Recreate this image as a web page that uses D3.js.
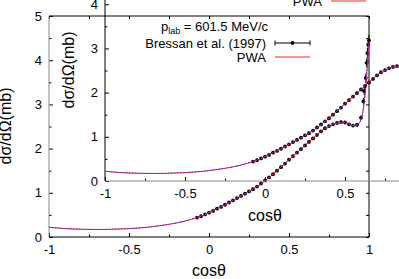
<!DOCTYPE html>
<html>
<head>
<meta charset="utf-8">
<script src="https://cdn.jsdelivr.net/npm/d3@7"></script>
<style>
  body { margin: 0; background: #fff; }
  svg { display: block; font-family: "Liberation Sans", Arial, sans-serif; }
</style>
</head>
<body>
<div id="chart"></div>
<script>
// PWA curve
const pwaCos = [-1, -0.9, -0.8, -0.7, -0.6, -0.5, -0.4, -0.3, -0.2, -0.1, -0.05, 0, 0.1, 0.2, 0.3, 0.4, 0.5, 0.6, 0.7, 0.75, 0.8, 0.85, 0.9, 0.93, 0.95, 0.96, 0.97, 0.98, 0.99, 1];
const pwaVal = [0.22, 0.19, 0.175, 0.17, 0.175, 0.19, 0.215, 0.26, 0.32, 0.41, 0.47, 0.55, 0.73, 0.93, 1.14, 1.42, 1.75, 2.07, 2.39, 2.51, 2.58, 2.59, 2.52, 2.55, 2.66, 2.8, 3.05, 3.4, 3.9, 4.4];

// Bressan et al. (1997)
const expCos = [-0.075, -0.05, -0.025, 0, 0.025, 0.05, 0.075, 0.1, 0.125, 0.15, 0.175, 0.2, 0.225, 0.25, 0.275, 0.3, 0.325, 0.35, 0.375, 0.4, 0.425, 0.45, 0.475, 0.5, 0.525, 0.55, 0.575, 0.6, 0.625, 0.65, 0.675, 0.7, 0.725, 0.75, 0.775, 0.8, 0.825, 0.85, 0.875, 0.9, 0.925, 0.95, 0.965, 0.97, 0.98, 0.985, 0.99, 0.995, 1];
const expVal = [0.44, 0.47, 0.51, 0.55, 0.59, 0.64, 0.68, 0.73, 0.78, 0.83, 0.88, 0.93, 0.98, 1.03, 1.08, 1.14, 1.21, 1.28, 1.35, 1.42, 1.5, 1.58, 1.66, 1.75, 1.83, 1.91, 1.99, 2.07, 2.15, 2.23, 2.31, 2.39, 2.46, 2.51, 2.55, 2.58, 2.6, 2.59, 2.55, 2.52, 2.54, 2.7, 3.07, 3.3, 3.6, 3.94, 4.16, 4.35, 4.45];
const expErr = [0.02, 0.02, 0.02, 0.02, 0.02, 0.02, 0.02, 0.02, 0.02, 0.02, 0.02, 0.02, 0.02, 0.03, 0.03, 0.03, 0.03, 0.03, 0.03, 0.03, 0.03, 0.03, 0.03, 0.03, 0.03, 0.03, 0.03, 0.03, 0.03, 0.03, 0.03, 0.03, 0.03, 0.03, 0.03, 0.03, 0.03, 0.03, 0.03, 0.03, 0.04, 0.05, 0.08, 0.1, 0.1, 0.1, 0.12, 0.12, 0.12];

const xMajor = [-1, -0.5, 0, 0.5, 1];
const xMinor = [-0.75, -0.25, 0.25, 0.75];
const xTickLabels = ["-1", "-0.5", "0", "0.5", "1"];
const yMajor = [0, 1, 2, 3, 4, 5];
const yMinor = [0.5, 1.5, 2.5, 3.5, 4.5];
const yTickLabels = ["0", "1", "2", "3", "4", "5"];

const width = 399,
  height = 279,
  frame = { left: 49, right: 369, top: 16, bottom: 237 };

const x = d3.scaleLinear().domain([-1, 1]).range([frame.left, frame.right]);
const y = d3.scaleLinear().domain([0, 5]).range([frame.bottom, frame.top]);

const pwa = pwaCos.map((c, i) => ({ c: c, v: pwaVal[i] }));
const points = expCos.map((c, i) => ({ c: c, v: expVal[i], e: expErr[i] }));

const svg = d3.select("#chart").append("svg").attr("width", width).attr("height", height);

const line = d3
  .line()
  .x((d) => x(d.c))
  .y((d) => y(d.v))
  .curve(d3.curveMonotoneX);

function styleAxis(g) {
  g.select(".domain").remove();
  g.selectAll("line").attr("stroke", "#000");
  g.selectAll("text").attr("font-size", 13).attr("fill", "#000").attr("font-family", null);
  g.attr("font-family", null);
}

function drawPanel(dx, dy, leftColor, bottomColor, yLabel, xLabel) {
  const g = svg.append("g").attr("transform", `translate(${dx},${dy})`);

  // ticks, inward, mirrored on top / right
  g.append("g")
    .attr("transform", `translate(0,${frame.bottom})`)
    .call(d3.axisBottom(x).tickValues(xMajor).tickSize(-4).tickPadding(8).tickFormat((d, i) => xTickLabels[i]))
    .call(styleAxis);
  g.append("g")
    .attr("transform", `translate(0,${frame.bottom})`)
    .call(d3.axisBottom(x).tickValues(xMinor).tickSize(-2.5).tickFormat(""))
    .call(styleAxis);
  g.append("g")
    .attr("transform", `translate(0,${frame.top})`)
    .call(d3.axisTop(x).tickValues(xMajor.concat(xMinor)).tickSize(-3).tickFormat(""))
    .call(styleAxis);

  g.append("g")
    .attr("transform", `translate(${frame.left},0)`)
    .call(d3.axisLeft(y).tickValues(yMajor).tickSize(-4).tickPadding(7).tickFormat((d, i) => yTickLabels[i]))
    .call(styleAxis);
  g.append("g")
    .attr("transform", `translate(${frame.left},0)`)
    .call(d3.axisLeft(y).tickValues(yMinor).tickSize(-2.5).tickFormat(""))
    .call(styleAxis);
  g.append("g")
    .attr("transform", `translate(${frame.right},0)`)
    .call(d3.axisRight(y).tickValues(yMajor.concat(yMinor)).tickSize(-3).tickFormat(""))
    .call(styleAxis);

  // frame
  g.append("line").attr("x1", frame.left).attr("x2", frame.left).attr("y1", frame.top).attr("y2", frame.bottom).attr("stroke", leftColor);
  g.append("line").attr("x1", frame.left).attr("x2", frame.right).attr("y1", frame.bottom).attr("y2", frame.bottom).attr("stroke", bottomColor);
  g.append("line").attr("x1", frame.left).attr("x2", frame.right).attr("y1", frame.top).attr("y2", frame.top).attr("stroke", "#000");
  g.append("line").attr("x1", frame.right).attr("x2", frame.right).attr("y1", frame.top).attr("y2", frame.bottom).attr("stroke", "#000");

  // axis titles
  g.append("text")
    .attr("transform", `translate(${yLabel[0]},${yLabel[1]}) rotate(-90)`)
    .attr("text-anchor", "middle")
    .attr("font-size", 16)
    .text("dσ/dΩ(mb)");
  g.append("text")
    .attr("x", xLabel[0])
    .attr("y", xLabel[1])
    .attr("text-anchor", "middle")
    .attr("font-size", 16)
    .text("cosθ");

  // data points with error bars
  const pts = g.append("g");
  pts.selectAll("line")
    .data(points)
    .enter()
    .append("line")
    .attr("x1", (d) => x(d.c))
    .attr("x2", (d) => x(d.c))
    .attr("y1", (d) => y(d.v - d.e))
    .attr("y2", (d) => y(d.v + d.e))
    .attr("stroke", "#000");
  pts.selectAll("circle")
    .data(points)
    .enter()
    .append("circle")
    .attr("cx", (d) => x(d.c))
    .attr("cy", (d) => y(d.v))
    .attr("r", 1.9)
    .attr("fill", "#000");

  // PWA curve (red with blue overlay)
  g.append("path").datum(pwa).attr("d", line).attr("fill", "none").attr("stroke", "#ff2020").attr("stroke-width", 1);
  g.append("path").datum(pwa).attr("d", line).attr("fill", "none").attr("stroke", "#3030ff").attr("stroke-width", 1).attr("stroke-dasharray", "1.5,1.5");

  // legend
  const lg = g.append("g");
  const plab = lg.append("text").attr("x", 268).attr("y", 31).attr("text-anchor", "end").attr("font-size", 13);
  plab.append("tspan").text("p");
  plab.append("tspan").attr("font-size", 9).attr("dy", 3).text("lab");
  plab.append("tspan").attr("dy", -3).text(" = 601.5 MeV/c");

  lg.append("text").attr("x", 266).attr("y", 47.5).attr("text-anchor", "end").attr("font-size", 13).text("Bressan et al. (1997)");
  lg.append("line").attr("x1", 275).attr("x2", 310).attr("y1", 43).attr("y2", 43).attr("stroke", "#000");
  lg.append("line").attr("x1", 275).attr("x2", 275).attr("y1", 40.5).attr("y2", 45.5).attr("stroke", "#000");
  lg.append("line").attr("x1", 310).attr("x2", 310).attr("y1", 40.5).attr("y2", 45.5).attr("stroke", "#000");
  lg.append("circle").attr("cx", 292.5).attr("cy", 43).attr("r", 1.9).attr("fill", "#000");

  lg.append("text").attr("x", 266).attr("y", 61.5).attr("text-anchor", "end").attr("font-size", 13).text("PWA");
  lg.append("line").attr("x1", 275).attr("x2", 310).attr("y1", 57).attr("y2", 57).attr("stroke", "#ff2020");
}

drawPanel(0, 0, "#888", "#000", [11, 126], [209, 276]);
drawPanel(56, -56, "#000", "#888", [18, 126], [209, 277]);
</script>
</body>
</html>
